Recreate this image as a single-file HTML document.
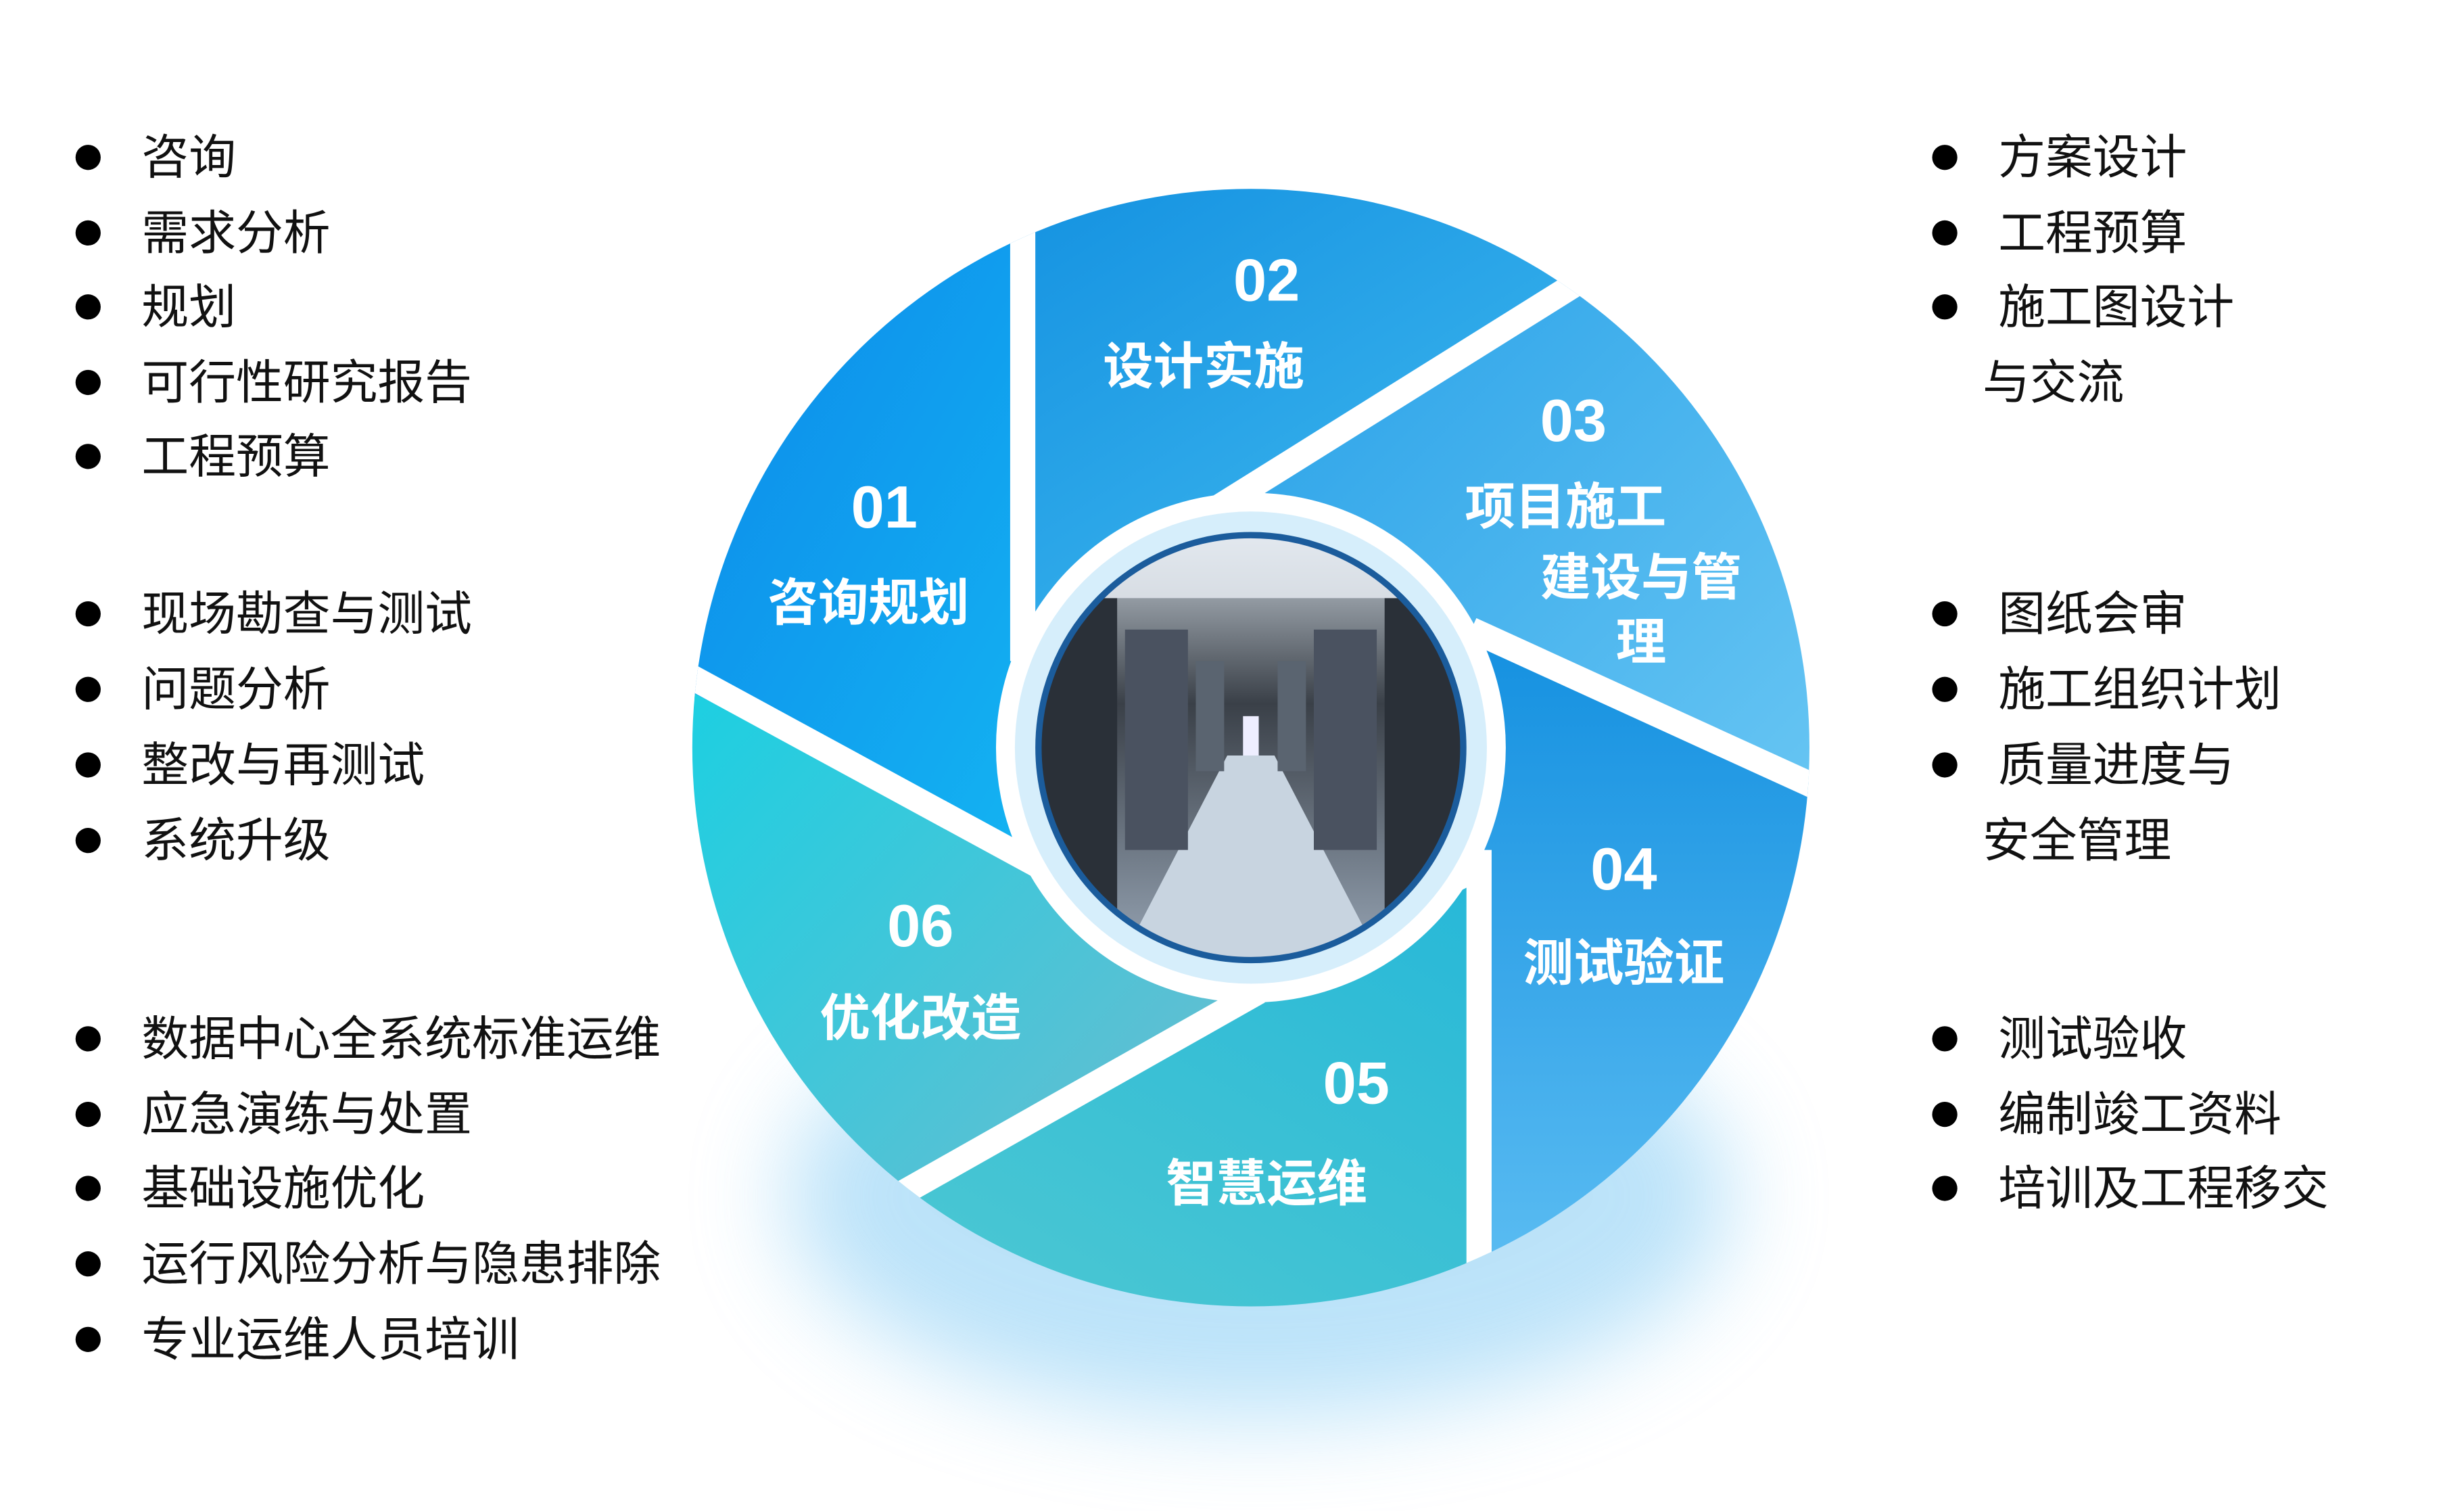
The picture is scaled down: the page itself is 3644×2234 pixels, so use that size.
<!DOCTYPE html>
<html><head><meta charset="utf-8"><style>
html,body{margin:0;padding:0;background:#fff;}
svg{display:block;}
.t{font-family:"Liberation Sans","Noto Sans CJK SC",sans-serif;font-size:30px;fill:#111;dominant-baseline:central;}
.w{font-family:"Liberation Sans","Noto Sans CJK SC",sans-serif;font-weight:bold;fill:#fff;text-anchor:middle;dominant-baseline:central;}
.n{font-size:38px;font-family:"Liberation Sans Narrow","Liberation Sans",sans-serif;}
.l{font-size:32px;}
</style></head><body>
<svg width="3644" height="2234" viewBox="0 0 1566 960" preserveAspectRatio="none" xmlns="http://www.w3.org/2000/svg">
<defs>
<clipPath id="cc"><circle cx="795" cy="475" r="355"/></clipPath>
<clipPath id="ic"><circle cx="795" cy="475" r="135"/></clipPath>
<filter id="bl" x="-50%" y="-50%" width="200%" height="200%"><feGaussianBlur stdDeviation="30"/></filter>
<linearGradient id="g1" x1="0" y1="0" x2="1" y2="1"><stop offset="0" stop-color="#0a7fe8"/><stop offset="1" stop-color="#14b4f2"/></linearGradient>
<linearGradient id="g2" x1="0" y1="0" x2="1" y2="1"><stop offset="0" stop-color="#118fe0"/><stop offset="1" stop-color="#4cc3f2"/></linearGradient>
<linearGradient id="g3" x1="0" y1="0" x2="1" y2="1"><stop offset="0" stop-color="#1e9be6"/><stop offset="1" stop-color="#6cc8f4"/></linearGradient>
<linearGradient id="g4" x1="0" y1="0" x2="0" y2="1"><stop offset="0" stop-color="#1490e0"/><stop offset="1" stop-color="#6ac6f6"/></linearGradient>
<linearGradient id="g5" x1="1" y1="0" x2="0" y2="1"><stop offset="0" stop-color="#27b8d8"/><stop offset="1" stop-color="#5ecfcf"/></linearGradient>
<linearGradient id="g6" x1="0" y1="0" x2="1" y2="1"><stop offset="0" stop-color="#12d2e4"/><stop offset="1" stop-color="#7ab8cc"/></linearGradient>
<linearGradient id="dc" x1="0" y1="0" x2="0" y2="1"><stop offset="0" stop-color="#cfd8e0"/><stop offset="0.4" stop-color="#3a4048"/><stop offset="1" stop-color="#9aa8b8"/></linearGradient>
</defs>
<ellipse cx="800" cy="760" rx="300" ry="140" fill="#8fd0f5" opacity="0.6" filter="url(#bl)"/>
<g clip-path="url(#cc)">
<polygon points="380,80 650,80 650,560 380,410" fill="url(#g1)"/>
<polygon points="650,80 1162,80 770,325 650,400" fill="url(#g2)"/>
<polygon points="1162,80 1200,80 1200,521 935,400 770,325" fill="url(#g3)"/>
<polygon points="940,400 1200,521 1200,900 940,900" fill="url(#g4)"/>
<polygon points="940,560 940,900 322,900 800,630" fill="url(#g5)"/>
<polygon points="380,410 660,550 800,630 380,867" fill="url(#g6)"/>
<g stroke="#fff" stroke-width="16">
<line x1="650" y1="100" x2="650" y2="420"/>
<line x1="1010" y1="175" x2="770" y2="325"/>
<line x1="1165" y1="505" x2="935" y2="400"/>
<line x1="940" y1="540" x2="940" y2="860"/>
<line x1="540" y1="777" x2="800" y2="630"/>
<line x1="430" y1="425" x2="660" y2="550"/>
</g>
</g>
<circle cx="795" cy="475" r="162" fill="#fff"/>
<circle cx="795" cy="475" r="150" fill="#d6eefb"/>
<g clip-path="url(#ic)">
<rect x="655" y="335" width="280" height="280" fill="url(#dc)"/>
<polygon points="780,480 810,480 880,615 710,615" fill="#c8d4e0"/>
<rect x="660" y="380" width="50" height="200" fill="#2a3038"/>
<rect x="880" y="380" width="50" height="200" fill="#2a3038"/>
<rect x="715" y="400" width="40" height="140" fill="#4a5260"/>
<rect x="835" y="400" width="40" height="140" fill="#4a5260"/>
<rect x="760" y="420" width="18" height="70" fill="#5a6470"/>
<rect x="812" y="420" width="18" height="70" fill="#5a6470"/>
<rect x="790" y="455" width="10" height="25" fill="#eef"/>
<rect x="700" y="340" width="190" height="40" fill="#e8eef4" opacity="0.8"/>
</g>
<circle cx="795" cy="475" r="135" fill="none" stroke="#1b5c9c" stroke-width="4"/>
<text class="w n" x="562" y="322">01</text><text class="w l" x="552" y="383">咨询规划</text>
<text class="w n" x="805" y="178">02</text><text class="w l" x="765" y="233">设计实施</text>
<text class="w n" x="1000" y="267">03</text><text class="w l" x="995" y="322">项目施工</text>
<text class="w l" x="1043" y="367">建设与管</text><text class="w l" x="1043" y="408">理</text>
<text class="w n" x="1032" y="552">04</text><text class="w l" x="1032" y="612">测试验证</text>
<text class="w n" x="862" y="688">05</text><text class="w l" x="805" y="752">智慧运维</text>
<text class="w n" x="585" y="588">06</text><text class="w l" x="585" y="647">优化改造</text>
<g fill="#000">
<circle cx="56" cy="100" r="8"/><circle cx="56" cy="148" r="8"/><circle cx="56" cy="195" r="8"/><circle cx="56" cy="243" r="8"/><circle cx="56" cy="290" r="8"/>
<circle cx="56" cy="390" r="8"/><circle cx="56" cy="438" r="8"/><circle cx="56" cy="486" r="8"/><circle cx="56" cy="534" r="8"/>
<circle cx="56" cy="660" r="8"/><circle cx="56" cy="708" r="8"/><circle cx="56" cy="755" r="8"/><circle cx="56" cy="803" r="8"/><circle cx="56" cy="851" r="8"/>
<circle cx="1236" cy="100" r="8"/><circle cx="1236" cy="148" r="8"/><circle cx="1236" cy="195" r="8"/>
<circle cx="1236" cy="390" r="8"/><circle cx="1236" cy="438" r="8"/><circle cx="1236" cy="486" r="8"/>
<circle cx="1236" cy="660" r="8"/><circle cx="1236" cy="708" r="8"/><circle cx="1236" cy="755" r="8"/>
</g>
<text class="t" x="90" y="100">咨询</text><text class="t" x="90" y="148">需求分析</text><text class="t" x="90" y="195">规划</text><text class="t" x="90" y="243">可行性研究报告</text><text class="t" x="90" y="290">工程预算</text>
<text class="t" x="90" y="390">现场勘查与测试</text><text class="t" x="90" y="438">问题分析</text><text class="t" x="90" y="486">整改与再测试</text><text class="t" x="90" y="534">系统升级</text>
<text class="t" x="90" y="660">数据中心全系统标准运维</text><text class="t" x="90" y="708">应急演练与处置</text><text class="t" x="90" y="755">基础设施优化</text><text class="t" x="90" y="803">运行风险分析与隐患排除</text><text class="t" x="90" y="851">专业运维人员培训</text>
<text class="t" x="1270" y="100">方案设计</text><text class="t" x="1270" y="148">工程预算</text><text class="t" x="1270" y="195">施工图设计</text><text class="t" x="1260" y="243">与交流</text>
<text class="t" x="1270" y="390">图纸会审</text><text class="t" x="1270" y="438">施工组织计划</text><text class="t" x="1270" y="486">质量进度与</text><text class="t" x="1260" y="534">安全管理</text>
<text class="t" x="1270" y="660">测试验收</text><text class="t" x="1270" y="708">编制竣工资料</text><text class="t" x="1270" y="755">培训及工程移交</text>
</svg>
</body></html>
